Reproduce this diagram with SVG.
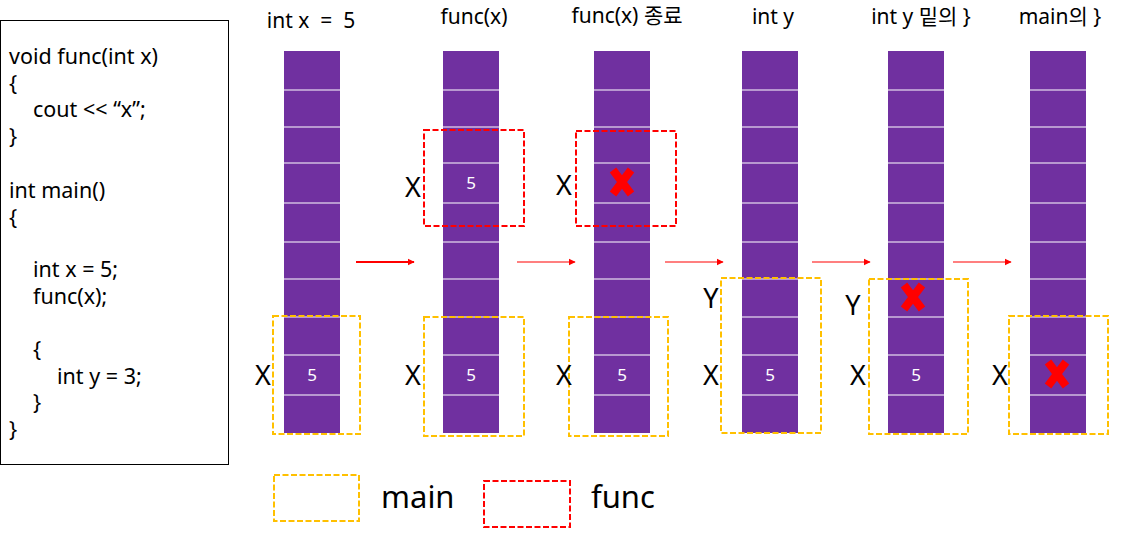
<svg xmlns="http://www.w3.org/2000/svg" width="1135" height="549" viewBox="0 0 1135 549">
<style>
text{font-family:"Noto Sans","Noto Sans CJK KR",sans-serif;fill:#000}
.code{font-size:21.5px}
.hdr{font-size:21px;text-anchor:middle}
.lbl{font-size:27px;text-anchor:middle}
.val{font-size:17px;fill:#fff;text-anchor:middle}
.col{fill:#7030A0}
.sep{stroke:#fff;stroke-width:1.2}
.main{fill:none;stroke:#FFC000;stroke-width:2;stroke-dasharray:6 2.5}
.func{fill:none;stroke:#FF0000;stroke-width:2;stroke-dasharray:6 2.5}
.cross{stroke:#FF0000;stroke-width:8;fill:none}
.arr{stroke:#FF0000;fill:none}
.leg{font-size:31px}
</style>
<defs>
<marker id="ah" viewBox="0 0 10 10" refX="9" refY="5" markerWidth="7" markerHeight="8" markerUnits="userSpaceOnUse" orient="auto"><path d="M0,0 L10,5 L0,10 z" fill="#FF0000"/></marker>
<g id="cells">
<rect class="col" x="0" y="51" width="56" height="382"/>
<path class="sep" d="M0,90H56M0,127H56M0,163H56M0,203H56M0,242H56M0,279H56M0,317H56M0,355H56M0,395H56"/>
</g>
</defs>

<g id="code">
<rect x="0.5" y="20.5" width="228" height="444" fill="#fff" stroke="#000" stroke-width="1"/>
<text class="code" x="9" y="64">void func(int x)</text>
<text class="code" x="9" y="91">{</text>
<text class="code" x="33" y="117" xml:space="preserve">cout &lt;&lt; “x”;</text>
<text class="code" x="9" y="144">}</text>
<text class="code" x="9" y="198">int main()</text>
<text class="code" x="9" y="225">{</text>
<text class="code" x="33" y="277">int x = 5;</text>
<text class="code" x="33" y="304">func(x);</text>
<text class="code" x="33" y="357">{</text>
<text class="code" x="57" y="384">int y = 3;</text>
<text class="code" x="33" y="410">}</text>
<text class="code" x="9" y="437">}</text>
</g>

<g id="step1">
<text class="hdr" x="311" y="28">int x&#160;&#160;=&#160;&#160;5</text>
<use href="#cells" x="284"/>
<text class="val" x="312" y="381">5</text>
<rect class="main" x="273" y="316" width="87" height="118"/>
<text class="lbl" x="263" y="385">X</text>
</g>

<g id="step2">
<text class="hdr" x="474" y="24">func(x)</text>
<use href="#cells" x="443"/>
<text class="val" x="471" y="189">5</text>
<text class="val" x="471" y="381">5</text>
<rect class="func" x="424" y="130" width="100" height="96"/>
<rect class="main" x="424" y="317" width="100" height="119"/>
<text class="lbl" x="413" y="197">X</text>
<text class="lbl" x="413" y="385">X</text>
</g>

<g id="step3">
<text class="hdr" x="627" y="23">func(x) 종료</text>
<use href="#cells" x="594"/>
<path class="cross" d="M613,170L631,194M631,170L613,194"/>
<text class="val" x="622" y="381">5</text>
<rect class="func" x="576" y="131" width="100" height="95"/>
<rect class="main" x="569" y="317" width="99" height="119"/>
<text class="lbl" x="564" y="195">X</text>
<text class="lbl" x="564" y="385">X</text>
</g>

<g id="step4">
<text class="hdr" x="773" y="24">int y</text>
<use href="#cells" x="742"/>
<text class="val" x="770" y="381">5</text>
<rect class="main" x="721" y="278" width="100" height="155"/>
<text class="lbl" x="711" y="308">Y</text>
<text class="lbl" x="711" y="385">X</text>
</g>

<g id="step5">
<text class="hdr" x="921" y="24">int y 밑의 }</text>
<use href="#cells" x="888"/>
<path class="cross" d="M904,285L922,309M922,285L904,309"/>
<text class="val" x="916" y="381">5</text>
<rect class="main" x="869" y="279" width="99" height="155"/>
<text class="lbl" x="853" y="315">Y</text>
<text class="lbl" x="858" y="385">X</text>
</g>

<g id="step6">
<text class="hdr" x="1060" y="24">main의 }</text>
<use href="#cells" x="1030"/>
<path class="cross" d="M1048,362L1066,386M1066,362L1048,386"/>
<rect class="main" x="1009" y="316" width="99" height="118"/>
<text class="lbl" x="1000" y="385">X</text>
</g>

<g id="connectors">
<line class="arr" x1="356" y1="262" x2="414" y2="262" stroke-width="2.2" marker-end="url(#ah)"/>
<line class="arr" x1="517" y1="262" x2="575" y2="262" stroke-width="1.2" marker-end="url(#ah)"/>
<line class="arr" x1="665" y1="262" x2="723" y2="262" stroke-width="1.2" marker-end="url(#ah)"/>
<line class="arr" x1="812" y1="262" x2="870" y2="262" stroke-width="1.2" marker-end="url(#ah)"/>
<line class="arr" x1="953" y1="262" x2="1011" y2="262" stroke-width="1.2" marker-end="url(#ah)"/>
</g>

<g id="legend">
<rect class="main" x="274" y="475" width="85" height="46"/>
<text class="leg" x="381" y="508">main</text>
<rect class="func" x="484" y="481" width="86" height="46"/>
<text class="leg" x="591" y="508">func</text>
</g>
</svg>
